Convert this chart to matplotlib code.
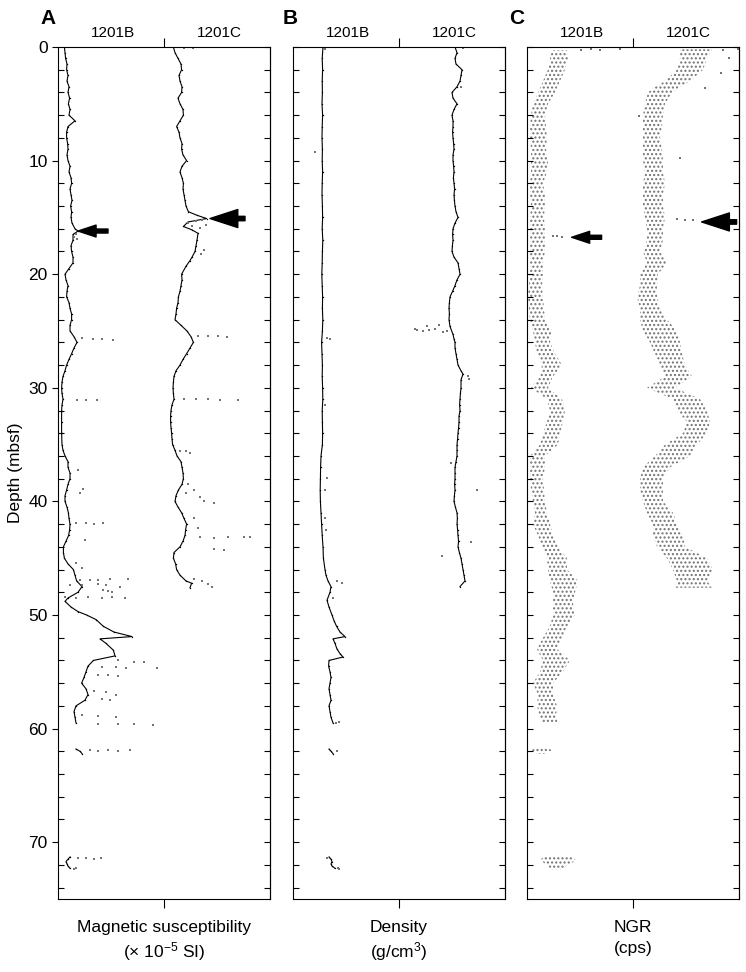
import numpy as np
import matplotlib
matplotlib.use("Agg")
import matplotlib.pyplot as plt
from matplotlib.ticker import MultipleLocator

plt.rcParams["font.family"] = ["Liberation Sans", "DejaVu Sans"]
plt.rcParams["mathtext.fontset"] = "custom"
plt.rcParams["mathtext.rm"] = "Liberation Sans"
plt.rcParams["mathtext.it"] = "Liberation Sans:italic"
plt.rcParams["hatch.linewidth"] = 1.0

holes = ["1201B", "1201C"]
letters = ["A", "B", "C"]
xlabels = ["Magnetic susceptibility\n(× 10$^{-5}$ SI)", "Density\n(g/cm$^3$)", "NGR\n(cps)"]

# ---- magnetic susceptibility (arbitrary display units), hole 1201C offset by 53
mag_b_depth = [0, 0.5, 1, 1.5, 2, 2.5, 3, 3.5, 4, 4.5,
               5, 5.5, 6, 6.5, 7, 7.5, 8, 8.5, 9, 9.5,
               10, 10.5, 11, 11.5, 12, 12.5, 13, 13.5, 14, 14.5,
               15, 15.5, 16, 16.2, 16.5, 17, 17.5, 18, 18.5, 19,
               19.5, 20, 20.5, 21, 21.5, 22, 22.5, 23, 23.5, 24,
               24.5, 25, 25.5, 26, 26.5, 27, 27.5, 28, 28.5, 29,
               29.5, 30, 30.5, 31, 31.5, 32, 33, 34, 35, 35.5,
               36, 36.5, 37, 37.5, 38, 38.5, 39, 39.5, 40, 40.5,
               41, 41.5, 42, 42.5, 43, 43.5, 44, 44.5, 45, 45.5,
               46, 46.5, 47, 47.5, 48, 48.5, 48.8, 49.3, 49.7, 50,
               50.4, 51, 51.5, 51.9, 52.1, 52.5, 53.1, 53.6, 54, 54.5,
               55, 55.5, 56, 56.5, 57, 57.5, 58, 58.5, 59, 59.5,
               60, 61.8, 62.0, 62.2, 63, 71.3, 71.5, 71.7, 71.9, 72.1, 72.3]
mag_b = [3.2, 3.5, 3.8, 4.5, 4.3, 5.0, 4.5, 5.5, 5.0, 5.8,
         5.2, 6.0, 5.5, 8.5, 5.0, 4.3, 4.3, 4.8, 5.0, 4.5,
         5.0, 6.0, 5.5, 6.5, 6.8, 6.0, 6.5, 7.0, 6.3, 6.8,
         6.5, 7.0, 8.5, 10.0, 7.5, 7.5, 6.5, 6.8, 7.5, 7.5,
         5.5, 3.5, 4.0, 5.0, 4.5, 4.3, 5.5, 6.0, 6.8, 6.8,
         6.0, 6.0, 8.0, 9.5, 8.0, 6.8, 5.5, 4.3, 3.5, 2.5,
         2.0, 1.8, 2.0, 2.5, 2.0, 1.8, 1.8, 1.8, 2.0, 2.5,
         3.5, 5.0, 5.0, 6.0, 6.0, 5.0, 4.3, 3.5, 3.5, 4.5,
         5.2, 5.5, 6.0, 5.8, 5.3, 4.0, 2.7, 2.7, 3.2, 5.0,
         7.7, 8.5, 9.3, 12.0, 10.0, 5.0, 3.5, 6.5, 10.0, 14.3,
         19.0, 22.7, 28.0, 37.0, 21.0, 24.0, 27.7, 28.5, 17.7, 15.0,
         14.0, 13.0, 11.8, 14.0, 15.0, 13.5, 9.0, 8.0, 8.5, 9.0,
         np.nan, 9.0, 11.0, 12.0, np.nan, 6.0, 5.0, 4.0, 4.5, 5.0, 6.0]
mag_b_pts_depth = [16.5, 16.7, 16.9, 25.6, 25.7, 25.7, 25.8, 31.1, 31.1, 31.1,
                   37.2, 38.9, 39.3, 41.9, 41.9, 42.0, 41.9, 43.4, 45.4, 45.9,
                   46.9, 46.9, 46.9, 46.8, 46.8, 47.4, 47.4, 47.3, 47.4, 47.5,
                   47.8, 47.9, 48.0, 48.4, 48.5, 48.4, 48.5, 48.4, 48.5,
                   54.0, 54.1, 54.1, 54.6, 54.6, 54.7, 54.7, 55.3, 55.3, 55.4,
                   56.7, 56.8, 57.0, 57.4, 57.5, 58.8, 58.9, 59.0,
                   59.6, 59.6, 59.6, 59.7, 61.9, 62.0, 61.9, 62.0, 61.9,
                   71.4, 71.4, 71.5, 71.4, 72.3, 72.4]
mag_b_pts = [9.0, 8.0, 9.5, 12.0, 17.7, 22.0, 27.5, 9.5, 14.0, 19.5,
             10.0, 12.5, 11.0, 9.0, 14.0, 18.0, 22.7, 13.5, 9.0, 11.8,
             11.0, 16.0, 20.0, 26.0, 35.0, 6.0, 12.0, 20.0, 24.0, 31.0,
             22.7, 25.0, 27.0, 3.5, 9.0, 15.0, 22.0, 27.0, 33.5,
             30.0, 38.0, 43.0, 22.0, 29.0, 34.0, 49.3, 20.0, 25.0, 30.0,
             18.0, 24.0, 29.0, 22.0, 26.0, 12.0, 20.0, 29.0,
             20.0, 30.0, 38.0, 47.7, 16.0, 20.0, 25.0, 30.0, 36.0,
             10.0, 14.0, 18.0, 21.5, 9.0, 8.0]

mag_c_depth = [0, 0.5, 1, 1.5, 2, 2.5, 3, 3.5, 4, 4.5,
               5, 5.5, 6, 6.5, 7, 7.5, 8, 8.5, 9, 9.5,
               10, 10.5, 11, 11.5, 12, 12.5, 13, 13.5, 14, 14.5,
               14.8, 15.1, 15.4, 15.8, 16.1, 16.4, 17, 17.5, 18, 18.5,
               18.8, 19.3, 20, 20.5, 21, 21.5, 22, 22.5, 23, 23.5,
               24, 24.5, 25, 25.5, 26, 26.5, 27, 27.5, 28, 28.5,
               29, 29.5, 30, 30.5, 31, 31.5, 32, 32.5, 33, 33.5,
               34, 34.5, 35, 35.5, 36, 36.5, 37, 37.5, 38, 38.5,
               39, 39.5, 40, 40.5, 41, 41.5, 42, 42.5, 43, 43.5,
               44, 44.5, 45, 45.5, 46, 46.5, 47, 47.2, 47.6]
mag_c = [4.7, 5.5, 7.0, 8.5, 8.8, 7.5, 8.0, 9.0, 8.8, 7.0,
         8.0, 9.5, 9.7, 8.0, 6.3, 7.5, 8.0, 9.0, 8.8, 9.5,
         11.3, 9.0, 8.0, 9.0, 9.7, 9.5, 10.0, 10.5, 11.0, 12.2,
         16.3, 21.3, 12.0, 9.7, 14.0, 17.0, 16.5, 16.0, 15.5, 14.0,
         13.0, 11.0, 8.8, 9.0, 8.5, 8.0, 7.2, 7.0, 6.3, 6.0,
         5.5, 8.5, 11.5, 13.5, 14.7, 13.0, 11.3, 9.5, 8.0, 6.0,
         5.0, 4.7, 4.5, 4.7, 5.0, 4.0, 3.5, 3.3, 3.3, 3.5,
         3.8, 4.0, 4.3, 5.5, 6.5, 8.5, 9.0, 9.5, 9.7, 9.0,
         7.2, 6.0, 5.5, 7.0, 8.8, 10.0, 11.3, 10.8, 10.5, 9.5,
         8.0, 5.0, 4.7, 5.8, 6.3, 8.0, 11.0, 13.8, 13.0]
mag_c_pts_depth = [0.1, 0.1, 15.2, 15.5, 15.7, 15.8, 15.9, 15.3, 17.9, 18.2,
                   25.4, 25.4, 25.4, 25.5, 31.0, 31.0, 31.0, 31.1, 31.1,
                   35.6, 35.6, 35.7, 38.5, 39.0, 39.3, 39.6, 40.0, 40.1,
                   41.5, 42.3, 43.1, 43.2, 43.1, 43.1, 43.1, 44.2, 44.3,
                   46.8, 47.0, 47.3, 47.5]
mag_c_pts = [10.0, 14.7, 19.0, 12.0, 21.0, 14.0, 18.0, 16.0, 20.0, 18.5,
             17.0, 22.0, 27.0, 31.5, 10.0, 16.0, 22.0, 28.0, 37.0,
             8.0, 11.0, 13.0, 12.0, 15.0, 11.0, 18.0, 20.0, 25.0,
             15.0, 17.0, 18.0, 25.0, 32.0, 40.0, 43.0, 25.0, 30.0,
             15.0, 19.0, 22.0, 24.0]

# ---- density (g/cm3), hole 1201C offset by 0.53
dens_b_depth = list(range(0, 47)) + [46.5, 47, 47.5, 48, 48.7, 49.3, 50, 50.5, 51, 51.5,
                                     51.9, 52.1, 52.5, 53, 53.4, 53.7, 54, 54.5, 55, 55.5,
                                     56, 56.5, 57, 57.5, 58, 58.5, 59, 59.5,
                                     60, 61.8, 62.0, 62.2, 63, 71.3, 71.5, 71.7, 71.9, 72.1, 72.3]
dens_b = [1.150, 1.146, 1.148, 1.146, 1.147, 1.145, 1.148, 1.146, 1.145, 1.147,
          1.146, 1.148, 1.146, 1.145, 1.147, 1.148, 1.146, 1.149, 1.147, 1.146,
          1.144, 1.146, 1.148, 1.147, 1.149, 1.147, 1.143, 1.145, 1.147, 1.146,
          1.148, 1.149, 1.146, 1.147, 1.148, 1.147, 1.140, 1.138, 1.137, 1.136,
          1.137, 1.140, 1.143, 1.146, 1.150, 1.152, 1.160,
          1.165, 1.175, 1.190, 1.185, 1.170, 1.180, 1.195, 1.205, 1.218, 1.235,
          1.260, 1.200, 1.210, 1.220, 1.235, 1.250, 1.180, 1.178, 1.185, 1.190,
          1.185, 1.180, 1.185, 1.190, 1.180, 1.185, 1.190, 1.200,
          np.nan, 1.180, 1.190, 1.200, np.nan, 1.180, 1.190, 1.195, 1.190, 1.195, 1.210]
dens_b_pts_depth = [0.2, 9.2, 25.6, 25.7, 31.5, 37.9, 39.0, 41.5, 42.5, 47.0,
                    47.2, 48.5, 59.4, 59.5, 62.0, 71.4, 72.4, 72.3]
dens_b_pts = [1.160, 1.110, 1.170, 1.185, 1.160, 1.170, 1.160, 1.160, 1.165, 1.220,
              1.245, 1.200, 1.230, 1.215, 1.220, 1.170, 1.230, 1.225]

dens_c_depth = [0, 0.5, 1, 1.5, 2, 2.5, 3, 3.5, 4, 4.5,
                5, 5.5, 6, 6.5, 7, 7.5, 8, 8.5, 9, 9.5,
                10, 10.5, 11, 11.5, 12, 12.5, 13, 13.5, 14, 14.5,
                15, 15.5, 16, 16.5, 17, 17.5, 18, 18.5, 19, 19.5,
                20, 20.5, 21, 21.5, 22, 22.5, 23, 23.5, 24, 24.6,
                25.3, 25.7, 26, 26.5, 27, 27.5, 28, 28.5, 28.8, 29.3,
                30, 30.5, 31, 31.5, 32, 32.5, 33, 33.5, 34, 34.5,
                35, 35.5, 36, 36.5, 37, 37.5, 38, 38.5, 39, 39.5,
                40, 40.5, 41, 41.5, 42, 42.5, 43, 43.5, 44, 44.5,
                45, 45.5, 46, 46.5, 47, 47.5]
dens_c = [1.280, 1.290, 1.280, 1.285, 1.315, 1.310, 1.305, 1.290, 1.265, 1.270,
          1.290, 1.275, 1.265, 1.270, 1.270, 1.268, 1.270, 1.273, 1.275, 1.270,
          1.270, 1.273, 1.275, 1.272, 1.275, 1.278, 1.275, 1.277, 1.280, 1.285,
          1.295, 1.280, 1.270, 1.268, 1.270, 1.267, 1.265, 1.275, 1.295, 1.300,
          1.305, 1.290, 1.280, 1.268, 1.255, 1.252, 1.250, 1.252, 1.250, 1.255,
          1.270, 1.275, 1.280, 1.280, 1.285, 1.290, 1.295, 1.310, 1.320, 1.310,
          1.310, 1.307, 1.305, 1.303, 1.305, 1.300, 1.300, 1.298, 1.295, 1.293,
          1.290, 1.290, 1.290, 1.285, 1.280, 1.280, 1.280, 1.278, 1.280, 1.277,
          1.275, 1.282, 1.290, 1.292, 1.290, 1.293, 1.295, 1.298, 1.295, 1.302,
          1.310, 1.315, 1.320, 1.325, 1.330, 1.305]
dens_c_pts_depth = [24.8, 24.9, 25.0, 24.9, 24.8, 24.6, 24.5, 25.1, 25.0, 29.0,
                    29.2, 0.1, 3.5, 39.0, 43.6, 44.8, 36.6]
dens_c_pts = [1.080, 1.090, 1.120, 1.150, 1.180, 1.140, 1.200, 1.220, 1.240, 1.345,
              1.350, 1.320, 1.310, 1.390, 1.360, 1.215, 1.260]

# ---- NGR (cps): range of counts at each depth, hole 1201C offset by 53
ngr_b_depth = [0.3, 1, 2, 3, 4, 5, 6, 7, 8, 9,
               10, 11, 12, 13, 14, 15, 16, 17, 18, 19,
               20, 21, 22, 23, 24, 25, 26, 27, 28, 29,
               30, 31, 32, 33, 34, 35, 36, 37, 38, 39,
               40, 41, 42, 43, 44, 45, 46, 47, 48, 49,
               50, 51, 52, 53, 54, 55, 56, 57, 58, 59,
               59.5, 60, 61.7, 61.95, 62.2, 63, 71.3, 71.6, 72.0, 72.4]
ngr_b_low = [12.5, 11.5, 10.5, 8.0, 5.5, 3.0, 2.0, 1.5, 1.5, 2.0,
             2.0, 2.0, 1.5, 1.5, 2.0, 1.5, 1.5, 1.5, 1.5, 1.5,
             1.5, 1.0, 0.5, 1.0, 1.5, 3.0, 4.0, 5.0, 7.5, 6.5,
             2.0, 10.0, 11.5, 10.0, 8.0, 6.5, 1.5, 1.5, 1.5, 2.0,
             3.0, 4.0, 3.0, 5.5, 7.5, 10.0, 10.5, 11.5, 13.0, 13.0,
             13.0, 11.5, 8.0, 5.0, 8.0, 6.5, 3.0, 5.5, 5.0, 6.5,
             8.0, np.nan, 4.0, 2.0, 5.0, np.nan, 8.0, 6.5, 10.0, 12.0]
ngr_b_high = [20.0, 20.5, 19.0, 16.5, 14.0, 10.5, 9.0, 9.5, 10.0, 9.5,
              10.5, 10.0, 8.0, 9.0, 9.0, 8.5, 9.0, 9.0, 9.0, 8.0,
              8.0, 7.5, 8.0, 8.5, 9.0, 12.5, 11.5, 14.0, 17.5, 13.0,
              10.5, 17.5, 19.0, 18.0, 16.5, 15.5, 9.0, 9.0, 8.0, 8.5,
              9.0, 10.0, 11.5, 13.0, 15.5, 20.0, 20.0, 25.5, 24.0, 23.0,
              24.0, 20.0, 17.5, 15.0, 21.5, 18.0, 13.0, 13.0, 15.0, 14.5,
              15.5, np.nan, 10.0, 13.0, 9.0, np.nan, 22.0, 25.0, 20.0, 18.0]
ngr_b_pts_depth = [0.3, 0.2, 0.3, 0.2, 16.6, 16.7, 16.6]
ngr_b_pts = [27.0, 32.0, 36.5, 46.5, 15.0, 17.5, 13.0]

ngr_c_depth = [0.2, 1, 2, 3, 3.5, 4, 5, 6, 7, 8,
               9, 10, 11, 12, 13, 14, 15, 16, 17, 18,
               19, 20, 21, 22, 23, 24, 25, 26, 27, 28,
               29, 30, 31, 32, 33, 34, 35, 36, 37, 38,
               39, 40, 41, 42, 43, 44, 45, 46, 47, 47.6]
ngr_c_low = [23.5, 23.5, 22.0, 16.0, 11.0, 7.5, 6.0, 5.0, 5.0, 5.0,
             5.0, 5.0, 6.0, 5.0, 5.0, 5.0, 6.0, 7.0, 7.0, 5.0,
             7.0, 3.5, 3.5, 2.0, 3.5, 3.5, 5.0, 8.5, 11.0, 13.5,
             16.0, 7.0, 20.0, 22.0, 27.0, 25.0, 16.0, 11.0, 5.0, 3.5,
             3.5, 5.0, 7.0, 10.0, 10.0, 12.0, 17.0, 20.0, 22.0, 21.0]
ngr_c_high = [39.5, 37.0, 35.0, 28.5, 23.5, 19.5, 16.0, 15.0, 14.5, 13.5,
              14.5, 15.0, 15.0, 16.0, 15.0, 15.0, 16.0, 15.0, 15.0, 13.5,
              17.0, 12.5, 12.0, 12.0, 13.5, 17.0, 22.0, 23.5, 24.5, 26.0,
              29.5, 21.0, 33.5, 37.0, 38.5, 37.0, 32.0, 28.5, 18.5, 15.0,
              15.0, 15.0, 20.0, 22.0, 25.0, 26.0, 37.0, 40.0, 37.0, 39.5]
ngr_c_pts_depth = [0.3, 0.2, 1.0, 2.3, 3.6, 15.1, 15.2, 15.2, 6.1, 9.8]
ngr_c_pts = [45.0, 52.5, 48.0, 44.0, 36.0, 22.0, 26.0, 30.0, 3.0, 23.5]

# arrows: (panel, depth, tip value, tail value, big?)
arrows = [(0, 16.2, 10.0, 25.0, False), (0, 15.1, 76.0, 93.5, True),
          (2, 16.75, 22.3, 37.3, False), (2, 15.4, 87.3, 104.8, True)]

fig = plt.figure(figsize=(7.46, 9.72), dpi=100)
lefts = [58 / 746, 293 / 746, 527 / 746]
axes = [fig.add_axes([l, 1 - 899 / 972, 212 / 746, 852 / 972]) for l in lefts]
xlims = [(0, 106), (1.0, 2.06), (0, 106)]
offsets = [53, 0.53, 53]

main_kw = dict(color="black", lw=0.8, marker=".", ms=2.0, mew=0)
pts_kw = dict(ls="none", marker="s", ms=1.5, mew=0, color="0.45")
cloud_kw = dict(facecolor="none", edgecolor="0.45", hatch="....", linewidth=0)

ax = axes[0]
ax.plot(mag_b, mag_b_depth, **main_kw)
ax.plot(np.array(mag_c) + offsets[0], mag_c_depth, **main_kw)
ax.plot(mag_b_pts, mag_b_pts_depth, **pts_kw)
ax.plot(np.array(mag_c_pts) + offsets[0], mag_c_pts_depth, **pts_kw)

ax = axes[1]
ax.plot(dens_b, dens_b_depth, **main_kw)
ax.plot(np.array(dens_c) + offsets[1], dens_c_depth, **main_kw)
ax.plot(dens_b_pts, dens_b_pts_depth, **pts_kw)
ax.plot(np.array(dens_c_pts) + offsets[1], dens_c_pts_depth, **pts_kw)

ax = axes[2]
ax.fill_betweenx(ngr_b_depth, ngr_b_low, ngr_b_high, **cloud_kw)
ax.fill_betweenx(ngr_c_depth, np.array(ngr_c_low) + offsets[2],
                 np.array(ngr_c_high) + offsets[2], **cloud_kw)
ax.plot(ngr_b_pts, ngr_b_pts_depth, **pts_kw)
ax.plot(np.array(ngr_c_pts) + offsets[2], ngr_c_pts_depth, **pts_kw)

for p, d, tip, tail, big in arrows:
    if big:
        props = dict(width=3.2, headwidth=13, headlength=20, color="black")
    else:
        props = dict(width=2.9, headwidth=8.6, headlength=13, color="black")
    axes[p].annotate("", xy=(tip, d), xytext=(tail, d), arrowprops=props,
                     annotation_clip=False)

for i, ax in enumerate(axes):
    ax.set_xlim(*xlims[i])
    ax.set_ylim(75, 0)
    ax.set_xticks([(xlims[i][0] + xlims[i][1]) / 2])
    ax.set_xticklabels([])
    ax.tick_params(axis="x", top=True, bottom=True, direction="out",
                   length=6.5, width=0.8)
    ax.yaxis.set_major_locator(MultipleLocator(10))
    ax.yaxis.set_minor_locator(MultipleLocator(2))
    for s in ax.spines.values():
        s.set_linewidth(0.8)
    if i == 0:
        ax.tick_params(axis="y", which="major", direction="out", length=4,
                       width=0.8, labelsize=12.5, right=False)
        ax.tick_params(axis="y", which="minor", direction="in", length=4,
                       width=0.8, right=False)
        ax.set_ylabel("Depth (mbsf)", fontsize=12.5, labelpad=4)
    else:
        ax.tick_params(axis="y", which="both", direction="in", length=4.5,
                       width=0.8, labelleft=False, right=False)
    sec = ax.secondary_yaxis("right")
    sec.yaxis.set_major_locator(MultipleLocator(10))
    sec.yaxis.set_minor_locator(MultipleLocator(2))
    sec.tick_params(axis="y", which="both", direction="in", length=4.5,
                    width=0.8, labelright=False)
    sec.spines["right"].set_linewidth(0.8)
    spacing = 1.3 if "$" in xlabels[i] else 1.5
    ax.set_xlabel(xlabels[i], fontsize=12.5, labelpad=5, linespacing=spacing)
    ax.text(0.26, 1.008, holes[0], transform=ax.transAxes, ha="center",
            va="bottom", fontsize=11)
    ax.text(0.76, 1.008, holes[1], transform=ax.transAxes, ha="center",
            va="bottom", fontsize=11)

letter_x = [48, 290, 517]
for lx, letter in zip(letter_x, letters):
    fig.text(lx / 746, 1 - 18 / 972, letter, fontsize=15, fontweight="bold",
             ha="center", va="center")

fig.savefig("out.png", dpi=100)
